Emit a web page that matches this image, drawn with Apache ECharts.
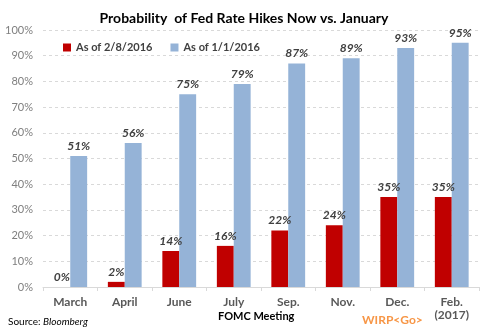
<!DOCTYPE html>
<html>
<head>
<meta charset="utf-8">
<script src="https://cdn.jsdelivr.net/npm/echarts@6/dist/echarts.min.js"></script>
<style>
  html, body { margin: 0; padding: 0; background: #fff; }
  #chart { width: 488px; height: 333px; }
</style>
</head>
<body>
<div id="chart"></div>
<script>
// FOMC meetings and hike probabilities (percent)
const meetings = ['March', 'April', 'June', 'July', 'Sep.', 'Nov.', 'Dec.', 'Feb.\n(2017)'];
const asOfFeb8 = [0, 2, 14, 16, 22, 24, 35, 35];
const asOfJan1 = [51, 56, 75, 79, 87, 89, 93, 95];
const yTicks = [0, 10, 20, 30, 40, 50, 60, 70, 80, 90, 100];

const FONT = 'Lato, "Open Sans", "DejaVu Sans", sans-serif';

const labelStyle = {
  show: true,
  position: 'top',
  distance: 4,
  formatter: p => p.value + '%',
  fontFamily: FONT,
  fontSize: 12,
  fontWeight: 'bold',
  fontStyle: 'italic',
  color: '#404040'
};

const chart = echarts.init(document.getElementById('chart'), null, { renderer: 'canvas' });
chart.setOption({
  animation: false,
  backgroundColor: '#ffffff',
  title: {
    text: 'Probability  of Fed Rate Hikes Now vs. January',
    left: 'center',
    top: 6,
    textStyle: { fontFamily: FONT, fontSize: 14, fontWeight: 'bold', color: '#000' }
  },
  legend: {
    left: 58,
    top: 37,
    itemWidth: 8,
    itemHeight: 8,
    itemGap: 18,
    icon: 'rect',
    textStyle: { fontFamily: FONT, fontSize: 11, fontWeight: 'bold', color: '#404040' }
  },
  grid: { left: 43, right: 9, top: 30, bottom: 46, outerBoundsMode: 'none' },
  xAxis: {
    type: 'category',
    data: meetings,
    axisLine: { lineStyle: { color: '#d9d9d9' } },
    axisTick: { show: true, length: 4, lineStyle: { color: '#d9d9d9' } },
    axisLabel: { fontFamily: FONT, fontSize: 12, fontWeight: 'bold', color: '#595959', margin: 9, lineHeight: 13 }
  },
  yAxis: {
    type: 'value',
    min: yTicks[0],
    max: yTicks[yTicks.length - 1],
    interval: 10,
    axisLabel: { formatter: '{value}%', fontFamily: FONT, fontSize: 11, color: '#7f7f7f', margin: 10 },
    axisLine: { show: false },
    axisTick: { show: false },
    splitLine: { lineStyle: { color: '#d9d9d9', type: [3, 3] } }
  },
  series: [
    {
      name: 'As of 2/8/2016',
      type: 'bar',
      data: asOfFeb8,
      barGap: '0%',
      barCategoryGap: '38%',
      itemStyle: { color: '#c00000' },
      label: labelStyle
    },
    {
      name: 'As of 1/1/2016',
      type: 'bar',
      data: asOfJan1,
      itemStyle: { color: '#95b3d7' },
      label: labelStyle
    }
  ],
  graphic: [
    {
      // x-axis title
      type: 'text',
      left: 218,
      top: 311,
      style: { text: 'FOMC Meeting', fontFamily: FONT, fontSize: 11, fontWeight: 'bold', fill: '#000' }
    },
    {
      type: 'text',
      left: 8,
      top: 317,
      style: {
        text: '{a|Source: }{b|Bloomberg}',
        rich: {
          a: { fontFamily: FONT, fontSize: 10, fill: '#000' },
          b: { fontFamily: FONT, fontSize: 10, fontStyle: 'italic', fill: '#000' }
        }
      }
    },
    {
      type: 'text',
      left: 362,
      top: 314,
      style: { text: 'WIRP<Go>', fontFamily: FONT, fontSize: 12, fontWeight: 'bold', fill: '#f79646' }
    }
  ]
});
</script>
</body>
</html>
